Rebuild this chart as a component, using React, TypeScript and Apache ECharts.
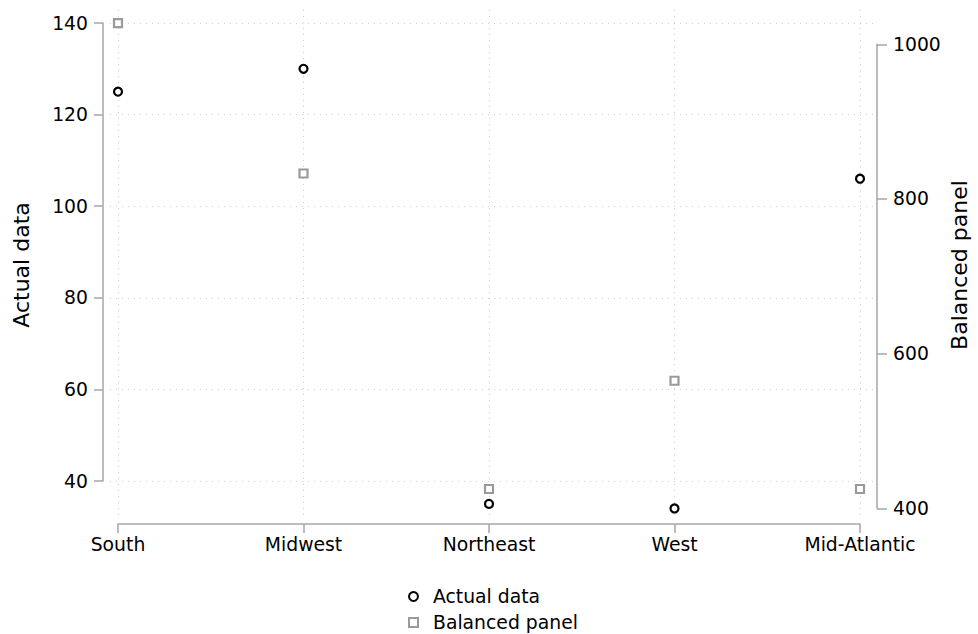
import React, { useEffect, useRef } from "react";
import * as echarts from "echarts";

const categories = ["South", "Midwest", "Northeast", "West", "Mid-Atlantic"];
const actualData = [125, 130, 35, 34, 106];
const balancedPanel = [1027.5, 833, 425, 565, 425];
const leftTicks = { min: 40, max: 140, interval: 20 };
const rightTicks = { min: 400, max: 1000, interval: 200 };
const leftRange = { min: 31.48, max: 142.84 };
const rightRange = { min: 384.9, max: 1044.4 };

const FONT = "DejaVu Sans";
const AXIS_COLOR = "#a6a6a6";
const GRID_COLOR = "#cfcfcf";

export default function App() {
  const ref = useRef<HTMLDivElement>(null);
  useEffect(() => {
    if (!ref.current) return;
    const chart = echarts.init(ref.current, undefined, { renderer: "svg" });
    const labelStyle = { color: "#000", fontFamily: FONT, fontSize: 18.8 };
    const option: any = {
      animation: false,
      backgroundColor: "#fff",
      textStyle: { fontFamily: FONT },
      grid: [
        // data grid + x axis
        { left: 118, right: 116, top: 10, bottom: 114 },
        // left axis grid
        { left: 110, right: 105, top: 23, height: 458 },
        // right axis grid
        { right: 105, width: 100, top: 44.3, height: 464 },
      ],
      xAxis: [
        {
          gridIndex: 0,
          type: "category",
          data: categories,
          boundaryGap: false,
          offset: 4,
          axisLine: { show: true, onZero: false, lineStyle: { color: AXIS_COLOR, width: 1.5 } },
          axisTick: { show: true, length: 9, alignWithLabel: true, lineStyle: { color: AXIS_COLOR, width: 1.5 } },
          axisLabel: { ...labelStyle, margin: 11, interval: 0 },
          splitLine: { show: true, lineStyle: { color: GRID_COLOR, type: [1, 5], width: 1 } },
        },
        { gridIndex: 1, type: "value", show: false, min: 0, max: 1 },
        { gridIndex: 2, type: "value", show: false, min: 0, max: 1 },
      ],
      yAxis: [
        {
          gridIndex: 0,
          type: "value",
          position: "left",
          min: leftRange.min,
          max: leftRange.max,
          name: "Actual data",
          nameLocation: "middle",
          nameGap: 86,
          nameTextStyle: { color: "#000", fontFamily: FONT, fontSize: 22 },
          axisLine: { show: false, onZero: false },
          axisTick: { show: false },
          axisLabel: { show: false },
          splitLine: { show: false },
        },
        {
          gridIndex: 0,
          type: "value",
          position: "right",
          min: rightRange.min,
          max: rightRange.max,
          name: "Balanced panel",
          nameLocation: "middle",
          nameGap: 88,
          nameTextStyle: { color: "#000", fontFamily: FONT, fontSize: 22 },
          axisLine: { show: false, onZero: false },
          axisTick: { show: false },
          axisLabel: { show: false },
          splitLine: { show: false },
        },
        {
          gridIndex: 1,
          type: "value",
          position: "left",
          min: leftTicks.min,
          max: leftTicks.max,
          interval: leftTicks.interval,
          offset: 7,
          axisLine: { show: true, onZero: false, lineStyle: { color: AXIS_COLOR, width: 1.5 } },
          axisTick: { show: true, length: 9, lineStyle: { color: AXIS_COLOR, width: 1.5 } },
          axisLabel: { ...labelStyle, margin: 15 },
          splitLine: { show: true, lineStyle: { color: GRID_COLOR, type: [1, 5], width: 1 } },
        },
        {
          gridIndex: 2,
          type: "value",
          position: "right",
          min: rightTicks.min,
          max: rightTicks.max,
          interval: rightTicks.interval,
          offset: 4,
          axisLine: { show: true, onZero: false, lineStyle: { color: AXIS_COLOR, width: 1.5 } },
          axisTick: { show: true, length: 10, lineStyle: { color: AXIS_COLOR, width: 1.5 } },
          axisLabel: { ...labelStyle, margin: 16, formatter: (v: number) => String(v) },
          splitLine: { show: false },
        },
      ],
      legend: {
        orient: "vertical",
        left: 403,
        top: 582,
        height: 80,
        itemWidth: 9,
        itemHeight: 9,
        itemGap: 7,
        textStyle: { color: "#000", fontFamily: FONT, fontSize: 18.8, padding: [0, 0, 0, 10] },
        data: [
          { name: "Actual data", icon: "circle" },
          { name: "Balanced panel", icon: "rect" },
        ],
      },
      series: [
        {
          name: "Actual data",
          type: "scatter",
          xAxisIndex: 0,
          yAxisIndex: 0,
          symbol: "circle",
          symbolSize: 8,
          clip: false,
          itemStyle: { color: "#fff", borderColor: "#000", borderWidth: 2.2, opacity: 1 },
          data: actualData,
          z: 3,
        },
        {
          name: "Balanced panel",
          type: "scatter",
          xAxisIndex: 0,
          yAxisIndex: 1,
          symbol: "rect",
          symbolSize: 8,
          clip: false,
          itemStyle: { color: "#fff", borderColor: "#9a9a9a", borderWidth: 2.2, opacity: 1 },
          data: balancedPanel,
          z: 2,
        },
      ],
    };
    chart.setOption(option);
    return () => chart.dispose();
  }, []);
  return (
    <div
      ref={ref}
      style={{ position: "fixed", left: 0, top: 0, width: 978, height: 634 }}
    />
  );
}
